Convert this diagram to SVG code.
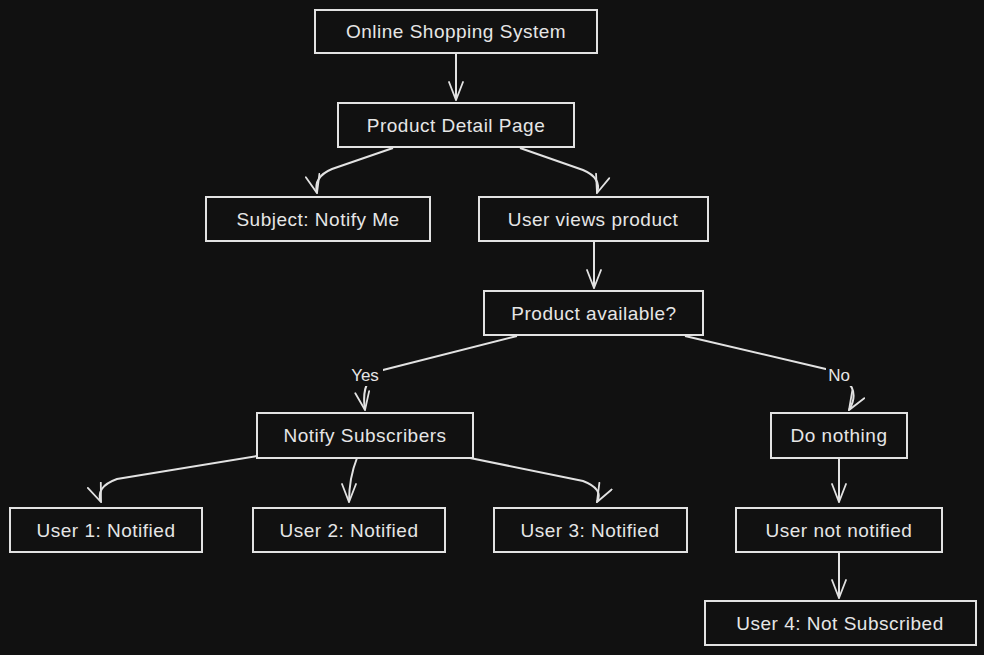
<svg xmlns="http://www.w3.org/2000/svg" width="984" height="655" viewBox="0 0 984 655">
<defs>
<style>
.node rect{fill:#111111;stroke:#e2e2e2;stroke-width:2}
.node text{fill:#e6e6e6;font-family:"Liberation Sans",Arial,sans-serif;font-size:19px;letter-spacing:0.5px;text-anchor:middle;dominant-baseline:central}
.edge{fill:none;stroke:#e2e2e2;stroke-width:2;marker-end:url(#arr)}
.lbl{fill:#e6e6e6;font-family:"Liberation Sans",Arial,sans-serif;font-size:17px;text-anchor:middle;dominant-baseline:central}
.lblbg{fill:#111111}
</style>
<marker id="arr" viewBox="0 0 20 16" refX="19" refY="8" markerWidth="20" markerHeight="16" markerUnits="userSpaceOnUse" orient="auto">
<path d="M1,1 L19,8 L1,15" fill="none" stroke="#e2e2e2" stroke-width="1.8" stroke-linecap="round"/>
</marker>
</defs>
<rect x="0" y="0" width="984" height="655" fill="#111111"/>
<g id="connectors">
<path class="edge" d="M456,53 L456,100"/>
<path class="edge" d="M393,148 L332,169 Q313,177 317,193"/>
<path class="edge" d="M520,148 L583,170 Q602,178 597,193"/>
<path class="edge" d="M594,241 L594,288"/>
<path class="edge" d="M517,336 L383,370 Q360,378 365,410"/>
<path class="edge" d="M685,336 L830,370 Q864,385 849,410"/>
<path class="edge" d="M257,456 L117,479 Q95,487 101,502"/>
<path class="edge" d="M357,458 Q349,478 349,502"/>
<path class="edge" d="M470,458 L583,481 Q604,489 597,502"/>
<path class="edge" d="M839,458 L839,502"/>
<path class="edge" d="M839,552 L839,598"/>
<rect class="lblbg" x="347" y="364" width="36" height="22"/>
<text class="lbl" x="365" y="375">Yes</text>
<rect class="lblbg" x="826" y="364" width="26" height="22"/>
<text class="lbl" x="839" y="375">No</text>
</g>
<g id="n1" class="node"><rect x="315" y="10" width="282" height="43"/><text x="456" y="31">Online Shopping System</text></g>
<g id="n2" class="node"><rect x="338" y="103" width="236" height="44"/><text x="456" y="125">Product Detail Page</text></g>
<g id="n3" class="node"><rect x="206" y="197" width="224" height="44"/><text x="318" y="219">Subject: Notify Me</text></g>
<g id="n4" class="node"><rect x="479" y="197" width="229" height="44"/><text x="593" y="219">User views product</text></g>
<g id="n5" class="node"><rect x="484" y="291" width="219" height="44"/><text x="594" y="313">Product available?</text></g>
<g id="n6" class="node"><rect x="257" y="413" width="216" height="45"/><text x="365" y="435">Notify Subscribers</text></g>
<g id="n7" class="node"><rect x="771" y="413" width="136" height="45"/><text x="839" y="435">Do nothing</text></g>
<g id="n8" class="node"><rect x="10" y="508" width="192" height="44"/><text x="106" y="530">User 1: Notified</text></g>
<g id="n9" class="node"><rect x="253" y="508" width="192" height="44"/><text x="349" y="530">User 2: Notified</text></g>
<g id="n10" class="node"><rect x="494" y="508" width="193" height="44"/><text x="590" y="530">User 3: Notified</text></g>
<g id="n11" class="node"><rect x="736" y="508" width="206" height="44"/><text x="839" y="530">User not notified</text></g>
<g id="n12" class="node"><rect x="705" y="601" width="271" height="44"/><text x="840" y="623">User 4: Not Subscribed</text></g>
</svg>
